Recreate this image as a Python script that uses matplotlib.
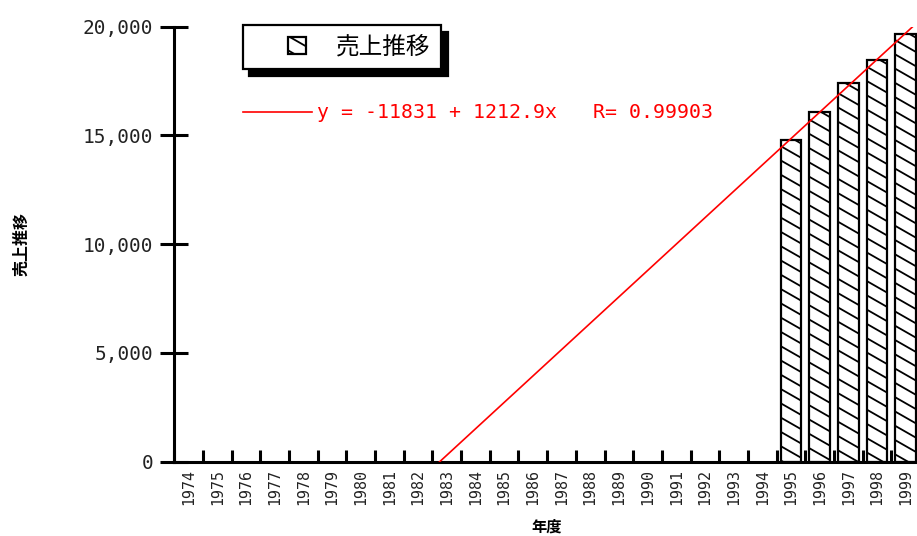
import numpy as np
import matplotlib
matplotlib.use("Agg")
import matplotlib.pyplot as plt
import matplotlib.patches as mpatches
import matplotlib.hatch as mhatch
from matplotlib.path import Path
from matplotlib.legend_handler import HandlerPatch

# Data
years = [str(y) for y in range(1974, 2000)]
sales_years = ["1995", "1996", "1997", "1998", "1999"]
sales = [14789, 16067, 17425, 18449, 19663]
fit_intercept = -11831
fit_slope = 1212.9
fit_r = 0.99903
y_ticks = [0, 5000, 10000, 15000, 20000]

series_label = "売上推移"
x_label = "年度"
y_label = "売上推移"


class ShallowBackslashHatch(mhatch.HatchPatternBase):
    """'\\' hatch drawn with a shallow (about 30 degree) slope."""
    rise = 4  # drop per tile width, in units of line spacing

    def __init__(self, hatch, density):
        self.n = hatch.count('\\') * 7
        self.num_lines = (self.n + self.rise + 1) if self.n else 0
        self.num_vertices = self.num_lines * 2

    def set_vertices_and_codes(self, vertices, codes):
        k = np.arange(self.num_lines)
        start = k / self.n
        drop = self.rise / self.n
        vertices[0::2, 0] = 0.0
        vertices[0::2, 1] = start
        vertices[1::2, 0] = 1.0
        vertices[1::2, 1] = start - drop
        codes[0::2] = Path.MOVETO
        codes[1::2] = Path.LINETO


mhatch._hatch_types = [ShallowBackslashHatch if t is mhatch.SouthEastHatch else t
                       for t in mhatch._hatch_types]

plt.rcParams['font.family'] = ['Noto Sans CJK JP', 'DejaVu Sans']
plt.rcParams['hatch.linewidth'] = 1.3
plt.rcParams['hatch.color'] = 'black'

MONO = 'DejaVu Sans Mono'
W, H = 917, 536
fig = plt.figure(figsize=(W / 100, H / 100), dpi=100)
ax = fig.add_axes([174.3 / W, (H - 461.7) / H, 745.7 / W, 435 / H])
ax.set_axisbelow(False)

pos = np.arange(1, len(years) + 1)
year_pos = {y: p for y, p in zip(years, pos)}
bar_x = [year_pos[y] for y in sales_years]

bars = ax.bar(bar_x, sales, width=0.72, facecolor='white', edgecolor='black',
              linewidth=1.6, hatch='\\', zorder=2)

# regression line from the stated coefficients
xs = np.linspace(0.5, len(years) + 0.5, 400)
fit_line, = ax.plot(xs, fit_intercept + fit_slope * xs, color='red', lw=1.2, zorder=3)

ax.set_xlim(0.5, len(years) + 0.5)
ax.set_ylim(0, 20000)

# x axis: labels at category centres, short inward ticks at boundaries
ax.set_xticks(pos)
ax.set_xticklabels(years, rotation=90, family=MONO, fontsize=10.8, color='#222222')
ax.set_xticks(np.arange(0.5, len(years) + 1.5, 1), minor=True)
ax.tick_params(axis='x', which='major', length=0, pad=5)
ax.tick_params(axis='x', which='minor', direction='in', length=8.4, width=2.2, color='black')

# y axis
ax.set_yticks(y_ticks)
ax.set_yticklabels([f"{v:,}" for v in y_ticks], family=MONO, fontsize=14, color='#222222')
ax.tick_params(axis='y', direction='inout', length=20, width=2.2, pad=5, color='black')

for side in ('top', 'right'):
    ax.spines[side].set_visible(False)
for side in ('left', 'bottom'):
    ax.spines[side].set_linewidth(2.2)
    ax.spines[side].set_color('black')

ax.set_ylabel(y_label, fontsize=11.5, fontweight='bold')
ax.yaxis.set_label_coords(-0.195, 0.5)
ax.set_xlabel(x_label, fontsize=11, fontweight='bold')
ax.xaxis.set_label_coords(0.5, -0.131)


def square_patch(legend, orig_handle, xdescent, ydescent, width, height, fontsize):
    s = height
    return mpatches.Rectangle((width - s - xdescent, -ydescent), s, s)


leg = ax.legend(handles=[bars.patches[0]], labels=[series_label],
                loc='upper left', bbox_to_anchor=(243 / W, 1 - 25 / H),
                bbox_transform=fig.transFigure, borderaxespad=0,
                frameon=True, fancybox=False, edgecolor='black', framealpha=1,
                shadow={'ox': 4.5, 'oy': -5, 'color': 'black', 'alpha': 1},
                handlelength=2.2, handleheight=0.78, handletextpad=1.3, borderpad=0.45,
                prop={'family': 'Noto Sans CJK JP', 'size': 17},
                handler_map={mpatches.Rectangle: HandlerPatch(patch_func=square_patch)})
leg.get_frame().set_linewidth(1.6)

fit_text = f"y = {fit_intercept} + {fit_slope}x   R= {fit_r}"
fig.legend(handles=[fit_line], labels=[fit_text], loc='center left',
           bbox_to_anchor=(243 / W, 1 - 113 / H), frameon=False,
           borderpad=0, borderaxespad=0, handlelength=3.45, handletextpad=0.3,
           prop={'family': MONO, 'size': 14.3}, labelcolor='red')

fig.savefig('out.png', dpi=100)
